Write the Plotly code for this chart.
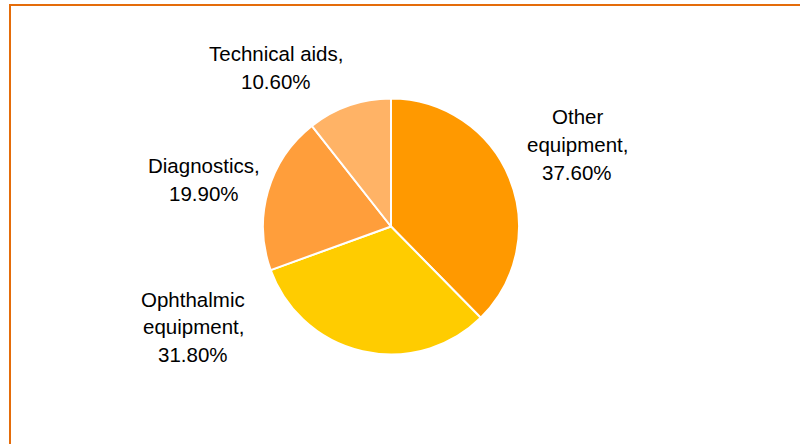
import plotly.graph_objects as go

# Market share by product group
categories = ["Other equipment", "Ophthalmic equipment", "Diagnostics", "Technical aids"]
shares = [37.6, 31.8, 19.9, 10.6]
colors = ["#FF9900", "#FFCC00", "#FF9E3B", "#FFB366"]

# Label text split into lines, and label centres in pixels (x from left, y from top)
label_lines = [
    ["Other", "equipment,"],
    ["Ophthalmic", "equipment,"],
    ["Diagnostics,"],
    ["Technical aids,"],
]
label_pos = [(577, 117), (193, 299), (204, 166), (276, 54)]

W, H = 800, 444
cx, cy, r = 391, 226.5, 128
line_gap = 27.5

fig = go.Figure(
    go.Pie(
        labels=categories,
        values=shares,
        sort=False,
        direction="clockwise",
        rotation=0,
        marker=dict(colors=colors, line=dict(color="white", width=2)),
        textinfo="none",
        hoverinfo="label+percent",
        showlegend=False,
        domain=dict(
            x=[(cx - r) / W, (cx + r) / W],
            y=[(H - cy - r) / H, (H - cy + r) / H],
        ),
    )
)

annotations = []
for lines, val, (px, py) in zip(label_lines, shares, label_pos):
    all_lines = lines + [f"{val:.2f}%"]
    for i, t in enumerate(all_lines):
        annotations.append(
            dict(
                text=t,
                x=px / W,
                y=(H - (py + i * line_gap)) / H,
                xref="paper",
                yref="paper",
                xanchor="center",
                yanchor="middle",
                showarrow=False,
                font=dict(family="Liberation Sans, Arial, sans-serif", size=20.5, color="#000000"),
            )
        )

border = "#E46C0A"
shapes = [
    dict(type="line", xref="paper", yref="paper", x0=9 / W, x1=1, y0=(H - 5) / H, y1=(H - 5) / H,
         line=dict(color=border, width=2)),
    dict(type="line", xref="paper", yref="paper", x0=10 / W, x1=10 / W, y0=0, y1=(H - 4) / H,
         line=dict(color=border, width=2)),
]

fig.update_layout(
    width=W,
    height=H,
    margin=dict(l=0, r=0, t=0, b=0),
    paper_bgcolor="white",
    plot_bgcolor="white",
    annotations=annotations,
    shapes=shapes,
)

fig.write_html("out.html")
